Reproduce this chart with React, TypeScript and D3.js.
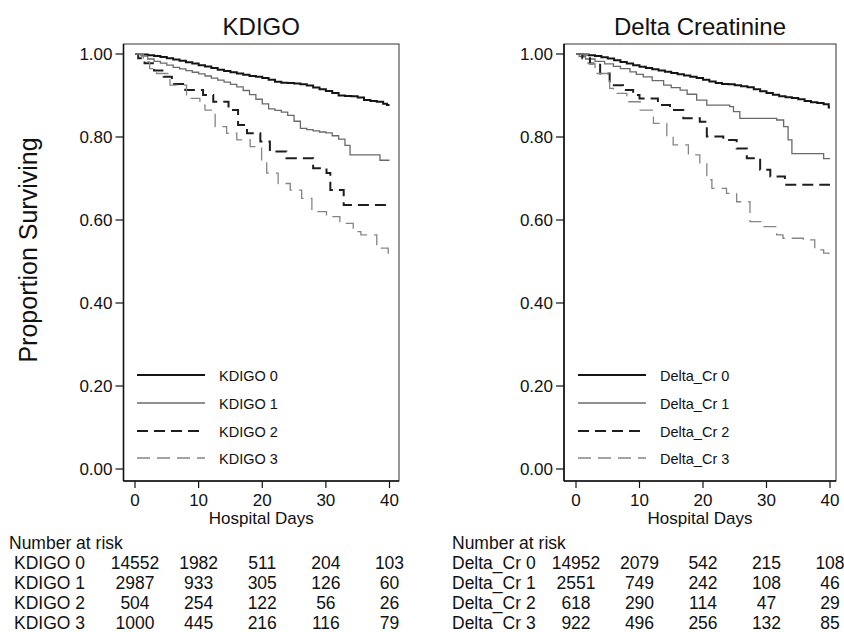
import React from 'react';
import * as d3 from 'd3';

// Kaplan-Meier steps: [day, proportion surviving]
const kdigo0 = [[0, 1], [1, 0.999], [2, 0.997], [3, 0.995], [4, 0.993], [5, 0.99], [6, 0.987], [7, 0.984], [8, 0.98], [9, 0.977], [10, 0.973], [11, 0.97], [12, 0.966], [13, 0.962], [14, 0.959], [15, 0.956], [16, 0.953], [17, 0.95], [18, 0.947], [19, 0.945], [20, 0.942], [21, 0.938], [22, 0.933], [23, 0.931], [24, 0.93], [25, 0.929], [26, 0.927], [27, 0.924], [28, 0.919], [29, 0.915], [30, 0.911], [31, 0.906], [32, 0.9], [33, 0.899], [34, 0.898], [35, 0.895], [36, 0.889], [37, 0.887], [38, 0.885], [39, 0.88], [39.6, 0.877], [40, 0.877]];
const kdigo1 = [[0, 1], [1, 0.995], [2, 0.988], [3, 0.982], [4, 0.978], [5, 0.973], [6, 0.968], [7, 0.964], [8, 0.96], [9, 0.956], [10, 0.952], [11, 0.947], [12, 0.942], [13, 0.937], [14, 0.932], [15, 0.927], [16, 0.921], [17, 0.912], [18, 0.902], [19, 0.891], [20, 0.88], [21, 0.868], [22, 0.864], [23, 0.86], [24, 0.852], [25, 0.838], [26, 0.821], [27, 0.818], [28, 0.815], [29, 0.812], [30, 0.81], [31, 0.803], [32, 0.795], [33, 0.78], [33.8, 0.757], [38.5, 0.744], [40, 0.744]];
const kdigo2 = [[0, 1], [0.5, 0.99], [1.5, 0.978], [3, 0.96], [4.5, 0.945], [5.8, 0.928], [7.9, 0.913], [10.7, 0.901], [12.3, 0.885], [14.7, 0.865], [16.2, 0.829], [17.6, 0.809], [19.7, 0.789], [21.2, 0.765], [23.8, 0.749], [28, 0.725], [30.1, 0.713], [30.7, 0.672], [32.8, 0.636], [40, 0.636]];
const kdigo3 = [[0, 1], [1.3, 0.981], [2.3, 0.965], [3.4, 0.953], [5.5, 0.925], [8.1, 0.893], [10.2, 0.877], [11, 0.865], [12.6, 0.825], [14.4, 0.809], [16, 0.793], [18.1, 0.777], [19.9, 0.745], [20.7, 0.713], [22.5, 0.688], [24.4, 0.672], [26.2, 0.652], [27.8, 0.62], [30.1, 0.608], [32.2, 0.592], [34.3, 0.572], [35.5, 0.564], [38, 0.532], [39.8, 0.512], [40, 0.512]];

const deltaCr0 = [[0, 1], [1, 0.999], [2, 0.997], [3, 0.995], [4, 0.992], [5, 0.989], [6, 0.985], [7, 0.981], [8, 0.977], [9, 0.973], [10, 0.969], [11, 0.966], [12, 0.963], [13, 0.96], [14, 0.957], [15, 0.954], [16, 0.951], [17, 0.948], [18, 0.945], [19, 0.942], [20, 0.938], [21, 0.934], [22, 0.93], [23, 0.928], [24, 0.927], [25, 0.925], [26, 0.922], [27, 0.92], [28, 0.915], [29, 0.91], [30, 0.906], [31, 0.902], [32, 0.898], [33, 0.896], [34, 0.894], [35, 0.891], [36, 0.887], [37, 0.884], [38, 0.882], [39, 0.879], [39.8, 0.871], [40, 0.871]];
const deltaCr1 = [[0, 1], [0.5, 0.994], [1.5, 0.988], [3, 0.982], [4.5, 0.976], [5.9, 0.97], [7, 0.965], [8.5, 0.957], [9.5, 0.951], [10.6, 0.945], [12, 0.936], [13.8, 0.925], [15, 0.919], [16.4, 0.913], [17.5, 0.903], [19, 0.889], [20.6, 0.877], [24.2, 0.873], [24.8, 0.861], [25.8, 0.845], [31.6, 0.841], [32.7, 0.825], [33.4, 0.793], [34, 0.76], [39, 0.748], [40, 0.748]];
const deltaCr2 = [[0, 1], [1, 0.99], [2.2, 0.977], [3.8, 0.953], [5.3, 0.925], [7.4, 0.913], [9, 0.901], [10, 0.893], [12.9, 0.877], [14.8, 0.865], [16.9, 0.845], [19.5, 0.837], [20.6, 0.801], [23.2, 0.793], [25.3, 0.772], [26.9, 0.749], [29, 0.721], [30.6, 0.705], [32.9, 0.685], [40, 0.685]];
const deltaCr3 = [[0, 1], [1.9, 0.977], [3, 0.953], [5.3, 0.917], [5.9, 0.905], [8, 0.885], [10.1, 0.865], [12.2, 0.833], [14.3, 0.801], [15.3, 0.781], [17.7, 0.757], [19.5, 0.737], [20.6, 0.697], [21.4, 0.676], [23.7, 0.664], [25.3, 0.644], [27.4, 0.596], [29.5, 0.584], [31.6, 0.564], [32.6, 0.556], [35.8, 0.552], [37.6, 0.528], [39, 0.52], [39.8, 0.508], [40, 0.508]];

const kdigoLabels = ['KDIGO 0', 'KDIGO 1', 'KDIGO 2', 'KDIGO 3'];
const deltaLabels = ['Delta_Cr 0', 'Delta_Cr 1', 'Delta_Cr 2', 'Delta_Cr 3'];

const xTicks = [0, 10, 20, 30, 40];
const yTicks = [0, 0.2, 0.4, 0.6, 0.8, 1.0];

const kdigoRisk = [
  [14552, 1982, 511, 204, 103],
  [2987, 933, 305, 126, 60],
  [504, 254, 122, 56, 26],
  [1000, 445, 216, 116, 79],
];
const deltaRisk = [
  [14952, 2079, 542, 215, 108],
  [2551, 749, 242, 108, 46],
  [618, 290, 114, 47, 29],
  [922, 496, 256, 132, 85],
];

const FONT = '"Liberation Sans", Arial, Helvetica, sans-serif';

const lineStyles = [
  { stroke: '#151515', width: 2, dash: null },
  { stroke: '#6a6a6a', width: 1.3, dash: null },
  { stroke: '#1e1e1e', width: 2, dash: '11,6' },
  { stroke: '#858585', width: 1.3, dash: '13,7' },
];

const Panel = ({ title, curves, labels, risk, frameLeft, frameRight, x0, x40, riskLabelX, riskHeaderX }) => {
  const frameTop = 44;
  const frameBottom = 481;
  const x = d3.scaleLinear().domain([0, 40]).range([x0, x40]);
  const y = d3.scaleLinear().domain([0, 1]).range([469, 54]);
  const line = d3.line()
    .x(d => x(d[0]))
    .y(d => y(d[1]))
    .curve(d3.curveStepAfter);
  const cx = (frameLeft + frameRight) / 2;
  const legendY = [375, 403, 431, 458];
  const rowY = [568.5, 588.5, 608.5, 628.5];

  return (
    <g fontFamily={FONT} fill="#111">
      <text x={cx} y={35} fontSize={24} textAnchor="middle">{title}</text>
      <rect x={frameLeft} y={frameTop} width={frameRight - frameLeft} height={frameBottom - frameTop}
        fill="none" stroke="#333" strokeWidth={1} />
      <line x1={frameLeft} x2={frameLeft} y1={frameTop} y2={frameBottom} stroke="#111" strokeWidth={1.6} />
      <line x1={frameLeft} x2={frameRight} y1={frameBottom} y2={frameBottom} stroke="#111" strokeWidth={1.6} />

      {yTicks.map(t => (
        <g key={t}>
          <line x1={frameLeft - 8} x2={frameLeft} y1={y(t)} y2={y(t)} stroke="#111" strokeWidth={1.2} />
          <text x={frameLeft - 11} y={y(t) + 6} fontSize={17} textAnchor="end">{d3.format('.2f')(t)}</text>
        </g>
      ))}
      {xTicks.map(t => (
        <g key={t}>
          <line x1={x(t)} x2={x(t)} y1={frameBottom} y2={frameBottom + 7} stroke="#111" strokeWidth={1.2} />
          <text x={x(t)} y={506} fontSize={17} textAnchor="middle">{t}</text>
        </g>
      ))}
      <text x={cx} y={524} fontSize={17} textAnchor="middle">Hospital Days</text>

      {curves.map((c, i) => (
        <path key={i} d={line(c)} fill="none" stroke={lineStyles[i].stroke}
          strokeWidth={lineStyles[i].width} strokeDasharray={lineStyles[i].dash || undefined} />
      ))}

      {labels.map((lab, i) => (
        <g key={lab}>
          <line x1={x0 + 2} x2={x0 + 70} y1={legendY[i]} y2={legendY[i]} stroke={lineStyles[i].stroke}
            strokeWidth={lineStyles[i].width} strokeDasharray={lineStyles[i].dash || undefined} />
          <text x={x0 + 84} y={legendY[i] + 5.5} fontSize={14.5}>{lab}</text>
        </g>
      ))}

      <text x={riskHeaderX} y={549} fontSize={17.5}>Number at risk</text>
      {risk.map((row, i) => (
        <g key={i}>
          <text x={riskLabelX} y={rowY[i]} fontSize={17.5}>{labels[i]}</text>
          {row.map((v, j) => (
            <text key={j} x={x(xTicks[j])} y={rowY[i]} fontSize={17.5} textAnchor="middle">{v}</text>
          ))}
        </g>
      ))}
    </g>
  );
};

export default function App() {
  return (
    <svg width={844} height={632} style={{ position: 'absolute', left: 0, top: 0, background: '#fff' }}>
      <rect width={844} height={632} fill="#fff" />
      <text transform="translate(37,250) rotate(-90)" fontFamily={FONT} fontSize={25} textAnchor="middle" fill="#111">
        Proportion Surviving
      </text>
      <Panel title="KDIGO" curves={[kdigo0, kdigo1, kdigo2, kdigo3]} labels={kdigoLabels} risk={kdigoRisk}
        frameLeft={123.5} frameRight={399} x0={135} x40={389.5} riskLabelX={14} riskHeaderX={9} />
      <Panel title="Delta Creatinine" curves={[deltaCr0, deltaCr1, deltaCr2, deltaCr3]} labels={deltaLabels} risk={deltaRisk}
        frameLeft={564} frameRight={836} x0={576} x40={830} riskLabelX={452} riskHeaderX={452} />
    </svg>
  );
}
